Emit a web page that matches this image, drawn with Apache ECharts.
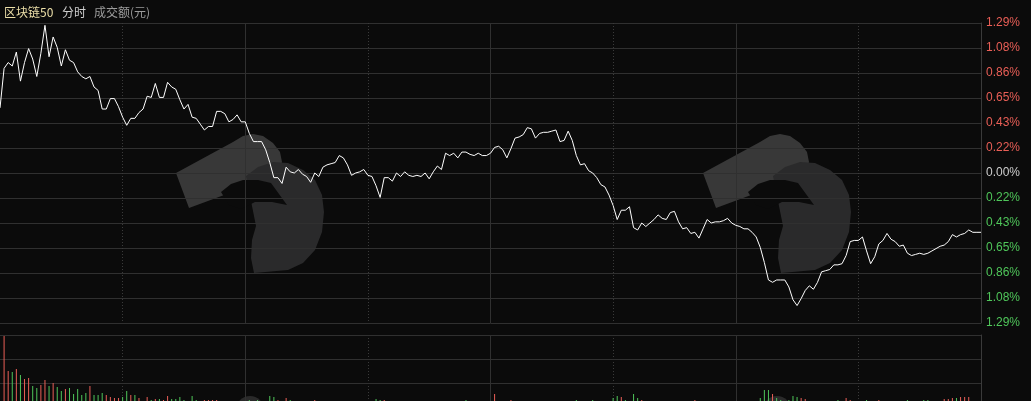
<!DOCTYPE html>
<html><head><meta charset="utf-8">
<script src="https://cdn.jsdelivr.net/npm/echarts@6/dist/echarts.min.js"></script>
<style>html,body{margin:0;padding:0;background:#0b0b0b;overflow:hidden}#c{width:1031px;height:401px}</style>
</head><body><div id="c"></div>
<script>
// 涨跌幅 (%) per minute, 09:30 .. 15:00
const pct = [
0.56,0.90,0.95,0.92,1.04,0.79,0.95,1.07,0.98,0.83,
1.03,1.27,1.00,1.17,1.08,0.92,1.06,0.97,0.95,0.87,
0.83,0.81,0.83,0.74,0.71,0.55,0.55,0.64,0.64,0.57,
0.48,0.41,0.47,0.47,0.52,0.55,0.66,0.65,0.77,0.65,
0.65,0.78,0.74,0.72,0.63,0.55,0.59,0.48,0.47,0.42,
0.37,0.40,0.40,0.53,0.53,0.51,0.44,0.46,0.50,0.44,
0.44,0.34,0.27,0.27,0.27,0.20,0.09,-0.04,-0.04,-0.09,
0.05,0.01,0.00,0.03,-0.01,-0.03,-0.08,0.00,-0.03,0.05,
0.07,0.08,0.09,0.15,0.13,0.07,-0.02,0.00,0.01,0.03,
-0.02,-0.03,-0.11,-0.21,-0.04,-0.04,-0.07,0.00,-0.03,0.01,
-0.02,-0.03,-0.02,-0.03,0.00,-0.05,0.01,0.06,0.03,0.17,
0.15,0.17,0.13,0.18,0.18,0.16,0.15,0.17,0.15,0.15,
0.17,0.22,0.23,0.20,0.13,0.21,0.30,0.31,0.33,0.39,
0.38,0.30,0.34,0.35,0.35,0.36,0.37,0.27,0.28,0.36,
0.28,0.15,0.07,0.08,0.02,0.00,-0.04,-0.10,-0.12,-0.19,
-0.28,-0.40,-0.32,-0.32,-0.29,-0.47,-0.49,-0.43,-0.46,-0.43,
-0.40,-0.36,-0.39,-0.40,-0.34,-0.33,-0.42,-0.48,-0.47,-0.52,
-0.51,-0.56,-0.48,-0.40,-0.43,-0.42,-0.42,-0.41,-0.39,-0.43,
-0.45,-0.46,-0.48,-0.48,-0.51,-0.55,-0.64,-0.77,-0.92,-0.94,
-0.92,-0.92,-0.92,-0.98,-1.09,-1.14,-1.08,-1.01,-0.97,-1.00,
-0.94,-0.85,-0.84,-0.83,-0.79,-0.79,-0.78,-0.71,-0.59,-0.58,
-0.58,-0.55,-0.67,-0.78,-0.72,-0.61,-0.58,-0.52,-0.57,-0.59,
-0.63,-0.62,-0.69,-0.71,-0.70,-0.69,-0.70,-0.69,-0.67,-0.65,
-0.63,-0.62,-0.59,-0.53,-0.55,-0.53,-0.52,-0.49,-0.51,-0.51,
-0.51
];
// 成交额 (relative units) per minute
const vol = [
0,71,36,35,38,32,28,29,21,19,
22,27,21,24,20,16,18,19,13,18,
12,14,21,12,12,14,12,10,9,9,
10,16,12,12,9,5,10,7,8,8,
7,11,8,8,10,7,5,11,7,5,
7,7,7,7,5,4,5,4,5,4,
5,7,5,7,5,5,11,10,7,5,
9,7,5,4,5,4,5,7,5,4,
5,3,5,4,5,4,5,3,5,4,
5,4,8,7,7,5,4,5,3,5,
4,5,4,5,3,5,4,5,4,5,
3,5,4,5,7,5,4,5,3,5,
4,13,5,4,5,7,5,4,5,3,
5,4,5,4,5,3,5,4,5,4,
5,7,5,4,5,7,5,4,5,4,
9,11,10,7,5,13,9,7,5,4,
5,3,5,4,5,4,5,3,5,4,
7,5,4,5,3,5,4,5,4,5,
3,5,4,5,4,5,9,17,17,13,
9,7,5,7,11,10,9,8,5,4,
5,3,5,4,5,7,5,9,7,5,
4,5,7,5,4,7,5,4,5,3,
5,4,7,5,4,5,7,7,5,4,
5,8,8,9,9,10,10,10,5,5,
6
];
const upBars = [1,2,4,6,7,10,11,13,16,22,26,27,28,29,32,34,36,38,40,41,50,51,52,53,68,70,77,94,121,125,152,157,170,189,196,197,207,208,215,231,232,233,235,236,237];
const downBars = [3,5,8,9,12,14,15,17,18,19,20,21,23,24,25,30,31,33,37,39,42,43,44,45,47,48,61,63,66,67,71,92,93,114,141,145,150,151,153,155,156,186,187,188,190,191,193,194,195,205,212,222,226,227,234];
const volLines = [24, 48, 72];
const yTickLabels = ['1.29%','1.08%','0.86%','0.65%','0.43%','0.22%','0.00%','0.22%','0.43%','0.65%','0.86%','1.08%','1.29%'];
const titleName = '区块链50', titleMode = '分时', titleVol = '成交额(元)';

const times = [];
function pad(n){return (n<10?'0':'')+n;}
for (let m = 9*60+30; m <= 11*60+30; m++) times.push(pad(Math.floor(m/60))+':'+pad(m%60));
for (let m = 13*60+1; m <= 15*60; m++) times.push(pad(Math.floor(m/60))+':'+pad(m%60));

const RED = '#ea5f57', GREEN = '#4fc65a', GRID = '#303030';
const volData = vol.map((v, i) => {
  let up;
  if (upBars.indexOf(i) >= 0) up = true;
  else if (downBars.indexOf(i) >= 0) up = false;
  else up = i === 0 ? true : pct[i] >= pct[i-1];
  return {value: v, itemStyle: {color: up ? RED : GREEN}};
});

function logo(dx){
  return {type:'group', x: dx, silent: true, z: -10, children: [
    {type:'polygon', z:-10, shape:{points:[[703,173],[760,142],[770,136],[780,134],[790,136],[800,143],[807,152],[809,162],[806,172],[798,186],[762,191],[716,208]]}, style:{fill:'#383838'}},
    {type:'polygon', z:-10, shape:{points:[[773,176],[785,167],[800,162],[815,163],[830,170],[842,180],[849,195],[851,212],[849,232],[842,250],[830,263],[815,270],[781,273],[778,258],[779,240],[783,226]]}, style:{fill:'#2a2a2b'}},
    {type:'polygon', z:-10, shape:{points:[[748,192],[758,184],[770,180],[785,180],[798,183],[814,205],[799,202],[782,202],[768,209],[756,205]]}, style:{fill:'#0b0b0b'}},
    {type:'circle', z:-10, shape:{cx:777, cy:410, r:14}, style:{fill:'#2a2a2a'}}
  ]};
}

const chart = echarts.init(document.getElementById('c'));
chart.setOption({
  backgroundColor: '#0b0b0b',
  animation: false,
  graphic: [
    logo(0), logo(-527),
    {type:'text', x:4, y:12, silent:true, style:{text:titleName, fill:'#ecdfa8', font:'12px "Noto Sans CJK SC"', verticalAlign:'middle'}},
    {type:'text', x:62, y:12, silent:true, style:{text:titleMode, fill:'#cfcfcf', font:'12px "Noto Sans CJK SC"', verticalAlign:'middle'}},
    {type:'text', x:94, y:12, silent:true, style:{text:titleVol, fill:'#9c9c9c', font:'12px "Noto Sans CJK SC"', verticalAlign:'middle'}}
  ],
  grid: [
    {left:0, right:50, top:23, height:300},
    {left:0, right:50, top:335, bottom:0}
  ],
  xAxis: [
    {type:'category', gridIndex:0, data:times, boundaryGap:false, axisLine:{show:false}, axisTick:{show:false}, axisLabel:{show:false},
     splitLine:{show:true, interval:(i)=> i%60===0 && i>0 && i<240, lineStyle:{color:GRID, width:1}}},
    {type:'category', gridIndex:0, data:times, boundaryGap:false, axisLine:{show:false}, axisTick:{show:false}, axisLabel:{show:false},
     splitLine:{show:true, interval:(i)=> i%60===30, lineStyle:{color:'#3a3a3a', width:1, type:[1,2]}}},
    {type:'category', gridIndex:1, data:times, boundaryGap:false, axisLine:{show:false}, axisTick:{show:false}, axisLabel:{show:false},
     splitLine:{show:true, interval:(i)=> i%60===0 && i>0 && i<240, lineStyle:{color:GRID, width:1}}},
    {type:'category', gridIndex:1, data:times, boundaryGap:false, axisLine:{show:false}, axisTick:{show:false}, axisLabel:{show:false},
     splitLine:{show:true, interval:(i)=> i%60===30, lineStyle:{color:'#3a3a3a', width:1, type:[1,2]}}}
  ],
  yAxis: [
    {type:'value', gridIndex:0, position:'right', min:-1.29, max:1.29, interval:0.215,
     axisLine:{show:true, lineStyle:{color:'#3a3a3a'}}, axisTick:{show:false},
     splitLine:{show:true, lineStyle:{color:GRID, width:1}},
     axisLabel:{margin:5, fontSize:12, fontFamily:'"Liberation Sans", Arial, sans-serif',
       formatter:(v)=>{ const k = Math.round((v+1.29)/0.215); const t = yTickLabels[k]; return k<6 ? '{g|'+t+'}' : (k>6 ? '{r|'+t+'}' : '{z|'+t+'}'); },
       rich:{g:{color:GREEN, fontSize:12, fontFamily:'"Liberation Sans", Arial, sans-serif'}, r:{color:RED, fontSize:12, fontFamily:'"Liberation Sans", Arial, sans-serif'}, z:{color:'#cdcdcd', fontSize:12, fontFamily:'"Liberation Sans", Arial, sans-serif'}}}},
    {type:'value', gridIndex:1, position:'right', min:6, max:72,
     axisLine:{show:true, lineStyle:{color:'#3a3a3a'}}, axisTick:{show:false}, axisLabel:{show:false},
     splitLine:{show:false}}
  ],
  series: [
    {type:'line', xAxisIndex:0, yAxisIndex:0, data:pct, symbol:'none', lineStyle:{color:'#ffffff', width:1}, z:5},
    {type:'bar', xAxisIndex:2, yAxisIndex:1, data:volData, barWidth:1, z:5,
     markLine:{silent:true, symbol:['none','none'], label:{show:false}, animation:false,
       lineStyle:{color:GRID, type:'solid', width:1}, emphasis:{disabled:true},
       data: volLines.map(v => ({yAxis: v}))}}
  ]
});
</script></body></html>
